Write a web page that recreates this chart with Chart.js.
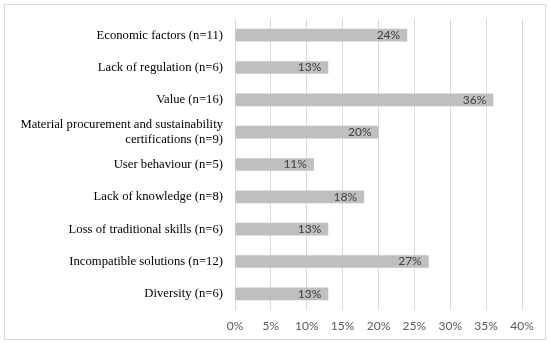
<!DOCTYPE html>
<html>
<head>
<meta charset="utf-8">
<script src="https://cdn.jsdelivr.net/npm/chart.js@4/dist/chart.umd.min.js"></script>
<style>
html,body{margin:0;padding:0;background:#fff;}
#box{position:absolute;left:4px;top:4px;width:540px;height:334px;border:1px solid #d9d9d9;}
#c{display:block;}
</style>
</head>
<body>
<div id="box"><canvas id="c" width="540" height="334"></canvas></div>
<script>
const categories = [
  "Economic factors (n=11)",
  "Lack of regulation (n=6)",
  "Value (n=16)",
  ["Material procurement and sustainability", "certifications (n=9)"],
  "User behaviour (n=5)",
  "Lack of knowledge (n=8)",
  "Loss of traditional skills (n=6)",
  "Incompatible solutions (n=12)",
  "Diversity (n=6)"
];
const values = [24, 13, 36, 20, 11, 18, 13, 27, 13];
const xTickMax = 40;
const xTickStep = 5;

const labelPlugin = {
  id: 'barLabels',
  afterDatasetsDraw(chart) {
    const ctx = chart.ctx;
    const meta = chart.getDatasetMeta(0);
    ctx.save();
    ctx.font = '12px Lato, "Open Sans", sans-serif';
    ctx.fillStyle = '#404040';
    ctx.textAlign = 'right';
    ctx.textBaseline = 'middle';
    meta.data.forEach((bar, i) => {
      ctx.fillText(values[i] + '%', bar.x - 7, bar.y);
    });
    ctx.restore();
  }
};

new Chart(document.getElementById('c'), {
  type: 'bar',
  data: {
    labels: categories,
    datasets: [{
      data: values,
      backgroundColor: '#bfbfbf',
      borderWidth: 0,
      categoryPercentage: 1,
      barPercentage: 0.39
    }]
  },
  options: {
    indexAxis: 'y',
    responsive: false,
    animation: false,
    devicePixelRatio: 1,
    layout: { padding: { left: 0, right: 23, top: 14, bottom: 0 } },
    plugins: { legend: { display: false }, tooltip: { enabled: false } },
    scales: {
      x: {
        min: 0, max: xTickMax,
        ticks: {
          stepSize: xTickStep,
          padding: 9,
          color: '#595959',
          font: { family: 'Lato, "Open Sans", sans-serif', size: 12 },
          callback: v => v + '%'
        },
        grid: { color: '#d9d9d9', lineWidth: 1, drawTicks: false },
        border: { display: false },
        afterFit: s => { s.height = 29; }
      },
      y: {
        ticks: {
          autoSkip: false,
          padding: 12,
          color: '#000',
          font: { family: '"Liberation Serif", "Times New Roman", serif', size: 12.7, lineHeight: 1.2 }
        },
        grid: { display: false, drawTicks: false },
        border: { display: false },
        afterFit: s => { s.width = 230; s.paddingTop = 0; s.paddingBottom = 0; }
      }
    }
  },
  plugins: [labelPlugin]
});
</script>
</body>
</html>
